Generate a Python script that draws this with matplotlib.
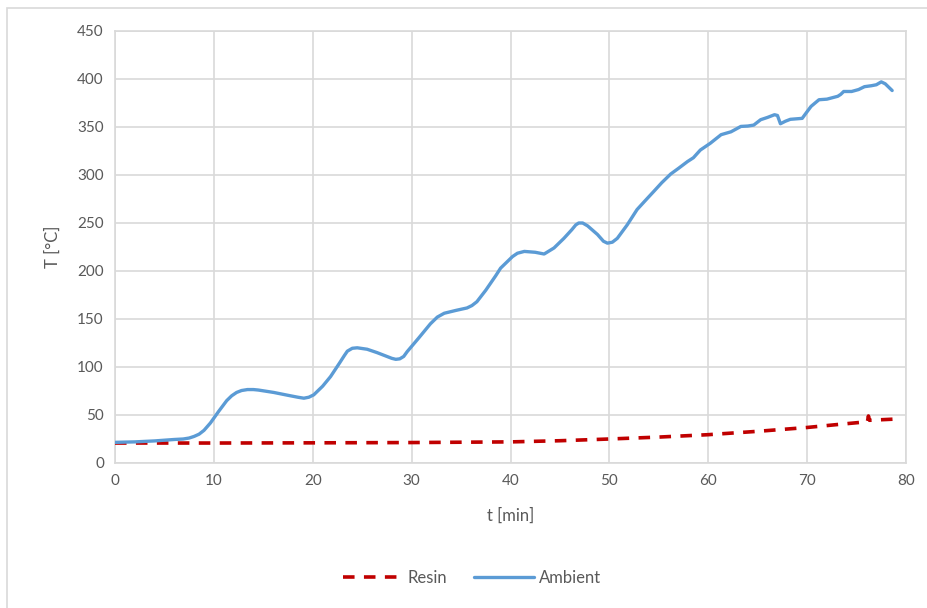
import matplotlib
matplotlib.use("Agg")
import matplotlib.pyplot as plt
from matplotlib.patches import Rectangle

# Ambient thermocouple
ambient_t = [0, 2, 4, 6, 6.9, 7.5, 8.0, 8.5, 9.0, 9.65, 10.5, 11.3, 11.8, 12.3, 12.8, 13.4,
             14.0, 14.5, 16.05, 17.5, 18.5, 19.1, 19.6, 20.1, 21.0, 21.8, 22.7, 23.2, 23.5,
             24.0, 24.5, 25.5, 26.5, 27.5, 28.0, 28.4, 28.8, 29.2, 29.55, 30.7, 31.9, 32.6,
             33.3, 34.5, 35.6, 36.1, 36.6, 37.5, 38.5, 39.0, 39.7, 40.2, 40.7, 41.4, 42.5,
             43.4, 44.4, 45.4, 46.2, 46.6, 46.9, 47.3, 47.8, 48.8, 49.4, 49.8, 50.3, 50.8,
             51.8, 52.8, 53.6, 54.5, 55.3, 56.2, 57.0, 57.9, 58.5, 59.2, 60.2, 61.3, 62.3,
             63.3, 64.0, 64.6, 65.3, 66.0, 66.7, 67.0, 67.3, 67.8, 68.3, 69.5, 70.0, 70.4,
             71.2, 72.0, 73.1, 73.4, 73.7, 74.5, 75.2, 75.8, 76.5, 77.0, 77.5, 77.9, 78.3,
             78.6]
ambient_T = [21.5, 22, 23, 24.5, 25, 26, 27.7, 30, 34, 41.7, 54, 65, 70, 73.5, 75.5, 76.5,
             76.5, 76, 73.5, 70.5, 68.5, 67.5, 68.5, 71, 80, 90, 104, 112, 116.5,
             119.5, 120, 118.5, 115, 111, 109, 108, 108.5, 111, 116, 130, 145, 152,
             156, 159, 161.5, 164, 168, 180, 195, 203, 210, 215, 218.5, 220.4, 219.5,
             217.7, 224, 234, 243, 248, 250, 250, 247, 238, 231, 229, 230, 234,
             248, 264, 273, 283, 292, 301, 307, 314, 318, 326, 333, 342, 345,
             350.6, 351, 352, 357.6, 360, 362.8, 362, 353.4, 356, 358, 359, 366, 371.5,
             378.4, 379, 382, 384, 387, 387, 389, 392, 393, 394, 397, 395, 391,
             388]

# Resin thermocouple
resin_t = [0, 10, 20, 30, 40, 45, 50, 55, 60, 65, 70, 73, 76.1, 76.2, 76.3, 79]
resin_T = [20.8, 20.8, 21, 21.3, 22, 23.2, 25, 27, 29.5, 33, 37, 40, 43, 49, 44.5, 45.8]

text_color = "#595959"
grid_color = "#d9d9d9"

plt.rcParams["font.family"] = ["Lato", "DejaVu Sans"]
plt.rcParams["font.size"] = 11

fig = plt.figure(figsize=(9.27, 6.08), dpi=100)
ax = fig.add_axes([115 / 927, 1 - 463 / 608, (906 - 115) / 927, (463 - 31) / 608])

ax.plot(resin_t, resin_T, color="#c00000", lw=2.6, ls=(0, (3.2, 2.6)), label="Resin", zorder=3)
ax.plot(ambient_t, ambient_T, color="#5b9bd5", lw=2.4, label="Ambient", zorder=3,
        solid_joinstyle="round", solid_capstyle="round")

ax.set_xlim(0, 80)
ax.set_ylim(0, 450)
ax.set_xticks(range(0, 81, 10))
ax.set_yticks(range(0, 451, 50))
ax.grid(True, color=grid_color, lw=1.2)
ax.set_axisbelow(True)
ax.tick_params(length=0, colors=text_color, labelsize=11, pad=8)
for side in ax.spines.values():
    side.set_color(grid_color)
    side.set_linewidth(1.2)

ax.set_xlabel("t [min]", color=text_color, fontsize=12, labelpad=14)
ax.set_ylabel("T [°C]", color=text_color, fontsize=12, labelpad=12)

leg = fig.legend(loc="center", bbox_to_anchor=(472 / 927, 1 - 578 / 608), ncol=2,
                 frameon=False, fontsize=12, handlelength=3.6, columnspacing=1.6,
                 handletextpad=0.3)
for txt in leg.get_texts():
    txt.set_color(text_color)

# chart-area outline
fig.patches.append(Rectangle((7.5 / 927, -0.1), 1.2, 1 - 8.5 / 608 + 0.1,
                             transform=fig.transFigure, fill=False,
                             edgecolor="#d9d9d9", lw=1.2))

fig.savefig("out.png", dpi=100)
